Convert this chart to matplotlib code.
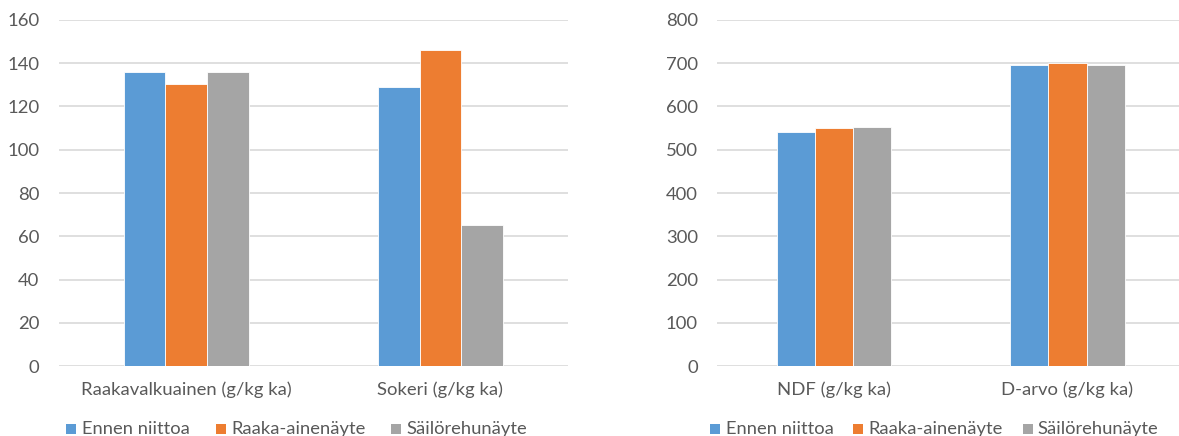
import matplotlib
matplotlib.use("Agg")
import matplotlib.pyplot as plt
from matplotlib.patches import Rectangle

plt.rcParams['font.family'] = ['Lato', 'DejaVu Sans']

series = ["Ennen niittoa", "Raaka-ainenäyte", "Säilörehunäyte"]
colors = ["#5B9BD5", "#ED7D31", "#A5A5A5"]

left_categories = ["Raakavalkuainen (g/kg ka)", "Sokeri (g/kg ka)"]
left_ennen = [136, 129]
left_raaka = [130.5, 146]
left_sailo = [136, 65]
left_ticks = [0, 20, 40, 60, 80, 100, 120, 140, 160]

right_categories = ["NDF (g/kg ka)", "D-arvo (g/kg ka)"]
right_ennen = [540, 697]
right_raaka = [551, 700]
right_sailo = [552, 696]
right_ticks = [0, 100, 200, 300, 400, 500, 600, 700, 800]

W, H = 1179, 436
fig = plt.figure(figsize=(W / 100, H / 100), dpi=100)

text_color = "#595959"
grid_color = "#D9D9D9"
bar_w = 0.164


def draw_panel(rect, categories, values, ticks):
    ax = fig.add_axes(rect)
    x = list(range(len(categories)))
    for i, (vals, c) in enumerate(zip(values, colors)):
        ax.bar([xi + (i - 1) * bar_w for xi in x], vals, width=bar_w,
               color=c, edgecolor="white", linewidth=0.6, zorder=3)
    ax.set_xlim(-0.5, len(categories) - 0.5)
    ax.set_ylim(ticks[0], ticks[-1])
    ax.set_yticks(ticks)
    ax.set_xticks(x)
    ax.set_xticklabels(categories)
    ax.yaxis.grid(True, color=grid_color, linewidth=1.2, zorder=0)
    for s in ax.spines.values():
        s.set_visible(False)
    ax.tick_params(axis="both", length=0, labelsize=13.3, labelcolor=text_color)
    ax.tick_params(axis="y", pad=14)
    ax.tick_params(axis="x", pad=11)
    return ax


ax1 = draw_panel([59 / W, (H - 366) / H, 508.6 / W, 346 / H],
                 left_categories, [left_ennen, left_raaka, left_sailo], left_ticks)
ax2 = draw_panel([717.3 / W, (H - 366) / H, 467 / W, 346 / H],
                 right_categories, [right_ennen, right_raaka, right_sailo], right_ticks)


def draw_legend(square_x, text_x, sq=10, sq_top=424.3, baseline=434):
    """Legend row under a panel; positions given in pixels from the top-left."""
    for sx, tx, label, c in zip(square_x, text_x, series, colors):
        fig.patches.append(Rectangle((sx / W, (H - sq_top - sq) / H), sq / W, sq / H,
                                     transform=fig.transFigure, facecolor=c,
                                     edgecolor="none"))
        fig.text(tx / W, (H - baseline) / H, label, fontsize=13.2,
                 color=text_color, ha="left", va="baseline")


draw_legend([65.7, 215.7, 390.7], [81.7, 231, 406])
draw_legend([710, 852.7, 1022.7], [726, 868, 1037.3])

fig.savefig("out.png", dpi=100)
